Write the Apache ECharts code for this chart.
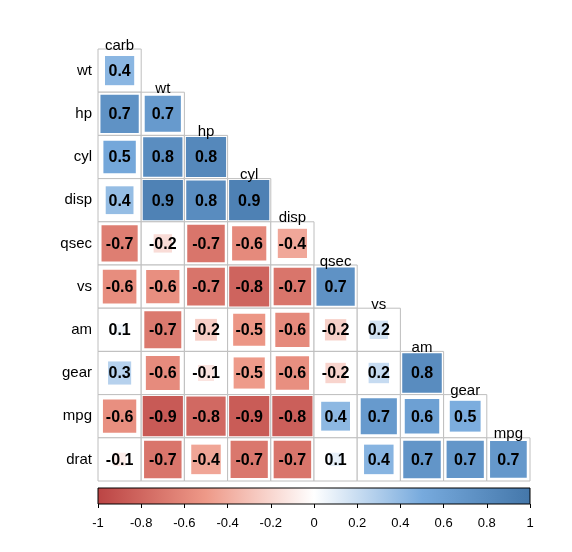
<!DOCTYPE html>
<html>
<head>
<meta charset="utf-8">
<script src="https://cdn.jsdelivr.net/npm/echarts@6/dist/echarts.min.js"></script>
<style>
  html, body { margin: 0; padding: 0; background: #fff; }
  #chart { width: 572px; height: 552px; }
</style>
</head>
<body>
<div id="chart"></div>
<script>
// Variables along the rows (top to bottom) and columns (left to right)
const rowNames = ['wt', 'hp', 'cyl', 'disp', 'qsec', 'vs', 'am', 'gear', 'mpg', 'drat'];
const colNames = ['carb', 'wt', 'hp', 'cyl', 'disp', 'qsec', 'vs', 'am', 'gear', 'mpg'];

// Lower triangle: row i holds correlations with columns 0..i
const corrRows = [
    [0.43],
    [0.74, 0.66],
    [0.53, 0.78, 0.83],
    [0.39, 0.89, 0.79, 0.90],
    [-0.66, -0.17, -0.71, -0.59, -0.43],
    [-0.57, -0.56, -0.72, -0.81, -0.71, 0.74],
    [0.06, -0.69, -0.24, -0.52, -0.59, -0.23, 0.17],
    [0.27, -0.58, -0.13, -0.49, -0.56, -0.21, 0.21, 0.79],
    [-0.56, -0.87, -0.78, -0.86, -0.84, 0.42, 0.66, 0.60, 0.48],
    [-0.09, -0.71, -0.44, -0.70, -0.71, 0.09, 0.44, 0.71, 0.70, 0.68]
];

// Colour bar range and ticks
const barRange = [-1, 1];
const barStep = 0.2;

const palette = ['#BB4444', '#EE9988', '#FFFFFF', '#77AADD', '#4477AA'];

const cellData = [];
corrRows.forEach((row, r) => {
    row.forEach((v, c) => cellData.push([c, r, v]));
});

const chart = echarts.init(document.getElementById('chart'), null, { renderer: 'canvas' });

function renderCell(params, api) {
    const c = api.value(0);
    const r = api.value(1);
    const v = api.value(2);
    const center = api.coord([c, r]);
    const size = api.size([1, 1]);
    const w = size[0], h = size[1];
    const x0 = center[0] - w / 2, y0 = center[1] - h / 2;
    const side = Math.min(w - 3, w * Math.sqrt(Math.abs(v)) * 1.03);
    const children = [
        {
            type: 'rect',
            shape: { x: x0, y: y0, width: w, height: h },
            style: { fill: '#fff', stroke: '#BEBEBE', lineWidth: 1 }
        },
        {
            type: 'rect',
            shape: { x: center[0] - side / 2, y: center[1] - side / 2, width: side, height: side },
            style: { fill: api.visual('color') }
        },
        {
            type: 'text',
            style: {
                x: center[0], y: center[1] + 1,
                text: v.toFixed(1),
                fill: '#000',
                font: 'bold 16px "Liberation Sans", Arial, sans-serif',
                textAlign: 'center', textVerticalAlign: 'middle'
            }
        }
    ];
    if (c === r) {
        children.push({
            type: 'text',
            style: {
                x: center[0], y: y0 + 4,
                text: colNames[c],
                fill: '#000',
                font: '15px "Liberation Sans", Arial, sans-serif',
                textAlign: 'center', textVerticalAlign: 'bottom'
            }
        });
    }
    return { type: 'group', children: children };
}

function renderBar(params, api) {
    const p0 = api.coord([barRange[0], 1]);
    const p1 = api.coord([barRange[1], 0]);
    return {
        type: 'rect',
        shape: { x: p0[0], y: p0[1], width: p1[0] - p0[0], height: p1[1] - p0[1] },
        style: {
            fill: new echarts.graphic.LinearGradient(0, 0, 1, 0,
                palette.map((col, i) => ({ offset: i / (palette.length - 1), color: col }))),
            stroke: '#000',
            lineWidth: 1
        }
    };
}

const option = {
    animation: false,
    backgroundColor: '#fff',
    grid: [
        { left: 98, top: 49, width: 432, height: 432 },
        { left: 98, top: 488, width: 432, height: 16 }
    ],
    xAxis: [
        {
            gridIndex: 0,
            type: 'category',
            data: colNames,
            show: false
        },
        {
            gridIndex: 1,
            type: 'value',
            min: barRange[0],
            max: barRange[1],
            interval: barStep,
            position: 'bottom',
            axisLine: { show: false },
            axisTick: { show: true, length: 4, lineStyle: { color: '#000' } },
            splitLine: { show: false },
            axisLabel: {
                color: '#000',
                fontSize: 13,
                fontFamily: 'Liberation Sans',
                margin: 13,
                formatter: v => String(Math.round(v * 10) / 10)
            }
        }
    ],
    yAxis: [
        {
            gridIndex: 0,
            type: 'category',
            data: rowNames,
            inverse: true,
            axisLine: { show: false },
            axisTick: { show: false },
            splitLine: { show: false },
            axisLabel: {
                color: '#000',
                fontSize: 15,
                fontFamily: 'Liberation Sans',
                margin: 6
            }
        },
        {
            gridIndex: 1,
            type: 'value',
            min: 0,
            max: 1,
            show: false
        }
    ],
    visualMap: {
        show: false,
        type: 'continuous',
        seriesIndex: 0,
        dimension: 2,
        min: barRange[0],
        max: barRange[1],
        inRange: { color: palette }
    },
    series: [
        {
            name: 'corr',
            type: 'custom',
            xAxisIndex: 0,
            yAxisIndex: 0,
            renderItem: renderCell,
            data: cellData,
            encode: { x: 0, y: 1 }
        },
        {
            name: 'colorbar',
            type: 'custom',
            xAxisIndex: 1,
            yAxisIndex: 1,
            renderItem: renderBar,
            data: [[0, 0]]
        }
    ]
};

chart.setOption(option);
</script>
</body>
</html>
